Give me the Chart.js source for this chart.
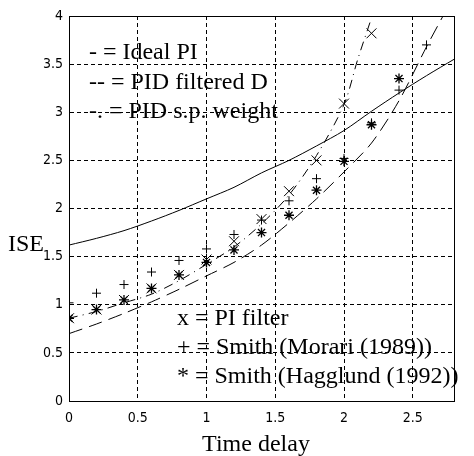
<!DOCTYPE html>
<html>
<head>
<meta charset="utf-8">
<script src="https://cdn.jsdelivr.net/npm/chart.js@4.4.1/dist/chart.umd.min.js"></script>
<style>
  html, body { margin: 0; padding: 0; background: #fff; }
  canvas { display: block; }
</style>
</head>
<body>
<canvas id="c" width="474" height="456"></canvas>
<script>
// ---- data ----
const delays = [0, 0.2, 0.4, 0.6, 0.8, 1.0, 1.2, 1.4, 1.6, 1.8, 2.0, 2.2, 2.4, 2.6, 2.8];

// solid line: Ideal PI
const idealPIx = delays;
const idealPI  = [1.62, 1.69, 1.77, 1.87, 1.98, 2.10, 2.22, 2.37, 2.50, 2.65, 2.81, 3.01, 3.20, 3.38, 3.55];

// dashed line: PID filtered D
const filteredDx = [0, 0.2, 0.4, 0.6, 0.8, 1.0, 1.2, 1.4, 1.6, 1.8, 2.0, 2.2, 2.4, 2.6, 2.72];
const filteredD  = [0.70, 0.80, 0.91, 1.03, 1.16, 1.30, 1.44, 1.62, 1.85, 2.10, 2.38, 2.68, 3.12, 3.68, 4.00];

// dash-dot line: PID s.p. weight
const spWeightx = [0, 0.2, 0.4, 0.6, 0.8, 1.0, 1.2, 1.4, 1.6, 1.8, 2.0, 2.1, 2.2];
const spWeight  = [0.86, 0.93, 1.02, 1.11, 1.25, 1.42, 1.60, 1.84, 2.14, 2.55, 3.08, 3.55, 3.98];

// markers
const piFilterx = [0, 0.2, 0.4, 0.6, 0.8, 1.0, 1.2, 1.4, 1.6, 1.8, 2.0, 2.2];
const piFilter  = [0.86, 0.95, 1.05, 1.17, 1.31, 1.47, 1.66, 1.89, 2.18, 2.50, 3.09, 3.82];

const morarix = [0, 0.2, 0.4, 0.6, 0.8, 1.0, 1.2, 1.4, 1.6, 1.8, 2.0, 2.2, 2.4, 2.6];
const morari  = [1.02, 1.12, 1.21, 1.34, 1.46, 1.58, 1.73, 1.88, 2.08, 2.31, 2.52, 2.89, 3.23, 3.70];

const hagglundx = [0, 0.2, 0.4, 0.6, 0.8, 1.0, 1.2, 1.4, 1.6, 1.8, 2.0, 2.2, 2.4];
const hagglund  = [0.86, 0.95, 1.05, 1.17, 1.31, 1.44, 1.57, 1.75, 1.93, 2.19, 2.49, 2.87, 3.35];

const xTicks = [0, 0.5, 1, 1.5, 2, 2.5];
const yTicks = [0, 0.5, 1, 1.5, 2, 2.5, 3, 3.5, 4];

const xTitle = 'Time delay';
const yTitle = 'ISE';
const lineNotes = ['- = Ideal PI', '-- = PID filtered D', '-. = PID s.p. weight'];
const markNotes = ['x = PI filter', '+ = Smith (Morari (1989))', '* = Smith (Hagglund (1992))'];

// ---- build ----
const pts = (xs, ys) => xs.map((x, i) => ({ x: x, y: ys[i] }));

const tickFont = { family: "'Liberation Sans Narrow', 'DejaVu Sans Condensed', 'Liberation Sans', sans-serif", size: 14 };
const serif = '"Liberation Serif", "Times New Roman", serif';

const textPlugin = {
  id: 'texts',
  afterDraw(chart) {
    const ctx = chart.ctx;
    const a = chart.chartArea;
    const xs = chart.scales.x, ys = chart.scales.y;
    ctx.save();
    // axes box
    ctx.strokeStyle = '#000';
    ctx.lineWidth = 1;
    ctx.setLineDash([]);
    ctx.strokeRect(Math.round(a.left) + 0.5, Math.round(a.top) + 0.5,
                   Math.round(a.right - a.left), Math.round(a.bottom - a.top));
    ctx.fillStyle = '#000';
    ctx.font = '24px ' + serif;
    ctx.textBaseline = 'alphabetic';
    ctx.textAlign = 'left';
    // in-plot annotations (data coordinates)
    const upper = [3.55, 3.245, 2.94];
    lineNotes.forEach((t, i) => ctx.fillText(t, xs.getPixelForValue(0.145), ys.getPixelForValue(upper[i])));
    const lower = [0.79, 0.49, 0.19];
    markNotes.forEach((t, i) => ctx.fillText(t, xs.getPixelForValue(0.785), ys.getPixelForValue(lower[i])));
    // axis titles
    ctx.fillText(yTitle, 8, 251);
    ctx.textAlign = 'center';
    ctx.fillText(xTitle, 256, 451);
    ctx.restore();
  }
};

new Chart(document.getElementById('c'), {
  type: 'scatter',
  data: {
    datasets: [
      { label: 'Ideal PI', type: 'line', data: pts(idealPIx, idealPI), borderColor: '#000', borderWidth: 1,
        pointRadius: 0, fill: false, tension: 0.3 },
      { label: 'PID filtered D', type: 'line', data: pts(filteredDx, filteredD), borderColor: '#000', borderWidth: 1,
        borderDash: [14, 7], pointRadius: 0, fill: false, tension: 0.3 },
      { label: 'PID s.p. weight', type: 'line', data: pts(spWeightx, spWeight), borderColor: '#000', borderWidth: 1,
        borderDash: [9, 5, 1, 5], pointRadius: 0, fill: false, tension: 0.3 },
      { label: 'PI filter', data: pts(piFilterx, piFilter), pointStyle: 'crossRot', pointRadius: 7,
        borderColor: '#000', borderWidth: 1, showLine: false },
      { label: 'Smith (Morari (1989))', data: pts(morarix, morari), pointStyle: 'cross', pointRadius: 4.5,
        borderColor: '#000', borderWidth: 1, showLine: false },
      { label: 'Smith (Hagglund (1992))', data: pts(hagglundx, hagglund), pointStyle: 'star', pointRadius: 5,
        borderColor: '#000', borderWidth: 1.3, showLine: false }
    ]
  },
  options: {
    responsive: false,
    animation: false,
    events: [],
    layout: { padding: { left: 0, top: 16, right: 20, bottom: 0 } },
    plugins: { legend: { display: false }, tooltip: { enabled: false } },
    scales: {
      x: {
        type: 'linear', min: 0, max: 2.8,
        afterFit(s) { s.height = 55; },
        afterBuildTicks(s) { s.ticks = xTicks.map(v => ({ value: v })); },
        ticks: { font: tickFont, color: '#000', padding: 9, maxRotation: 0,
                 callback: v => String(v) },
        grid: { color: '#000', lineWidth: 1, drawTicks: false },
        border: { display: true, color: '#000', width: 1, dash: [4, 3] }
      },
      y: {
        type: 'linear', min: 0, max: 4,
        afterFit(s) { s.width = 69; },
        afterBuildTicks(s) { s.ticks = yTicks.map(v => ({ value: v })); },
        ticks: { font: tickFont, color: '#000', padding: 6,
                 callback: v => String(v) },
        grid: { color: '#000', lineWidth: 1, drawTicks: false },
        border: { display: true, color: '#000', width: 1, dash: [4, 3] }
      }
    }
  },
  plugins: [textPlugin]
});
</script>
</body>
</html>
